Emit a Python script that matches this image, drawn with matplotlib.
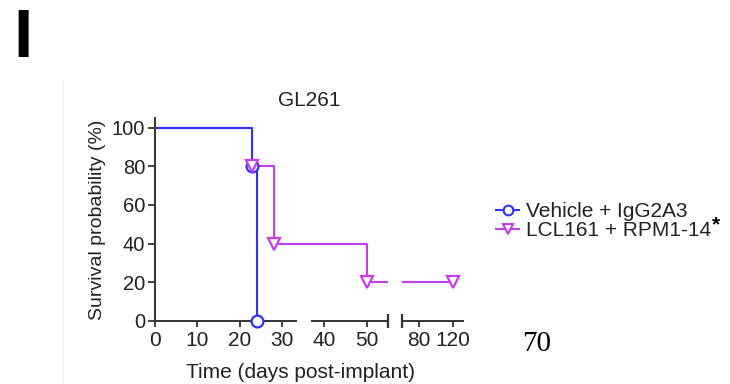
import matplotlib
matplotlib.use('Agg')
import matplotlib.pyplot as plt
from matplotlib.lines import Line2D

BLUE    = "#3030ff"
MAGENTA = "#c83cf0"
AXIS    = "#333333"
TEXT    = "#222222"

plt.rcParams['font.family'] = ['Liberation Sans', 'DejaVu Sans']

# Kaplan-Meier steps (days, % surviving)
vehicle_days = [0, 23, 24]
vehicle_surv = [100, 80, 0]
lcl_days = [0, 23, 28, 50, 120]
lcl_surv = [100, 80, 40, 20, 20]

# marker positions (events)
vehicle_mk_days = [23, 24]
vehicle_mk_surv = [80, 0]
lcl_mk_days = [23, 28, 50, 120]
lcl_mk_surv = [80, 40, 20, 20]

ticks_left  = [0, 10, 20, 30, 40, 50]
ticks_right = [80, 120]
y_ticks     = [0, 20, 40, 60, 80, 100]

W, H = 730, 384
fig = plt.figure(figsize=(W / 100, H / 100), dpi=100)
fig.patch.set_facecolor("white")


def box(x0, x1, y_top=118, y_bot=321):
    return [x0 / W, 1 - y_bot / H, (x1 - x0) / W, (y_bot - y_top) / H]


def inside(xs, ys, lim):
    pts = [(x, y) for x, y in zip(xs, ys) if lim[0] <= x <= lim[1]]
    return [p[0] for p in pts], [p[1] for p in pts]


ax1 = fig.add_axes(box(155, 388))
ax2 = fig.add_axes(box(402, 463))

for ax, lim in ((ax1, (0, 55)), (ax2, (60, 132))):
    ax.step(lcl_days, lcl_surv, where='post', color=MAGENTA, lw=1.5, zorder=3)
    ax.step(vehicle_days, vehicle_surv, where='post', color=BLUE, lw=1.5, zorder=4)
    vx, vy = inside(vehicle_mk_days, vehicle_mk_surv, lim)
    ax.plot(vx, vy, ls='none', marker='o', ms=8.5, mfc='white',
            mec=BLUE, mew=1.6, zorder=5, clip_on=False)
    lx, ly = inside(lcl_mk_days, lcl_mk_surv, lim)
    ax.plot(lx, ly, ls='none', marker='v', ms=9, mfc='white',
            mec=MAGENTA, mew=1.6, zorder=6, clip_on=False)
    ax.set_xlim(*lim)
    ax.set_ylim(0, 105)
    for s in ax.spines.values():
        s.set_visible(False)
    ax.set_facecolor('none')
    ax.tick_params(axis='x', direction='out', length=4, width=1.3, color=AXIS,
                   labelsize=15, labelcolor=TEXT, pad=3)

ax1.set_xticks(ticks_left)
ax2.set_xticks(ticks_right)
ax2.set_yticks([])

# y axis on the left panel
ax1.spines['left'].set_visible(True)
ax1.spines['left'].set_color(AXIS)
ax1.spines['left'].set_linewidth(1.4)
ax1.set_yticks(y_ticks)
ax1.tick_params(axis='y', direction='out', length=5, width=1.3, color=AXIS,
                labelsize=14.5, labelcolor=TEXT, pad=2)

# segmented x axis line with break marks
ax1.plot([0, 33.3], [0, 0], color=AXIS, lw=1.4, clip_on=False, zorder=2)
ax1.plot([37, 55], [0, 0], color=AXIS, lw=1.4, clip_on=False, zorder=2)
ax1.plot([55], [0], marker='|', ms=10, mew=1.6, color=AXIS, clip_on=False, zorder=2)
ax2.plot([60, 132], [0, 0], color=AXIS, lw=1.4, clip_on=False, zorder=2)
ax2.plot([60], [0], marker='|', ms=10, mew=1.6, color=AXIS, clip_on=False, zorder=2)

ax1.set_ylabel("Survival probability (%)", fontsize=14, color=TEXT, labelpad=4)
fig.text(300 / W, 1 - 372 / H, "Time (days post-implant)", fontsize=15, color=TEXT,
         ha='center', va='center')
fig.text(309 / W, 1 - 100 / H, "GL261", fontsize=15, color=TEXT, ha='center', va='center')

# legend
handles = [
    Line2D([], [], color=BLUE, lw=1.5, marker='o', ms=7, mfc='white', mec=BLUE, mew=1.5),
    Line2D([], [], color=MAGENTA, lw=1.5, marker='v', ms=7, mfc='white', mec=MAGENTA, mew=1.5),
]
labels = ["Vehicle + IgG2A3", "LCL161 + RPM1-14"]
leg = fig.legend(handles, labels, loc='center left', bbox_to_anchor=(486 / W, 1 - 221 / H),
                 frameon=False, fontsize=15, handlelength=1.1, handletextpad=0.3,
                 labelspacing=0.0, borderpad=0, labelcolor=TEXT)

# significance asterisk, raised, right after the second legend entry
fig.canvas.draw()
bb = leg.get_texts()[1].get_window_extent().transformed(fig.transFigure.inverted())
fig.text(bb.x1 + 1 / W, bb.y1 + 6 / H, "*", fontsize=15, fontweight='bold',
         color='black', ha='left', va='top')

# panel letter and page number
fig.text(13 / W, 1 - 39 / H, "I", fontsize=50, fontweight='bold', color='black',
         ha='left', va='center')
fig.text(537 / W, 1 - 344 / H, "70", fontsize=21, family='Liberation Serif',
         color='black', ha='center', va='center')

# faint edge of the pasted figure
fig.add_artist(Line2D([63 / W, 63 / W], [0, 1 - 80 / H], color="#f0f0f0", lw=1))

fig.savefig("out.png", dpi=100, facecolor="white")
